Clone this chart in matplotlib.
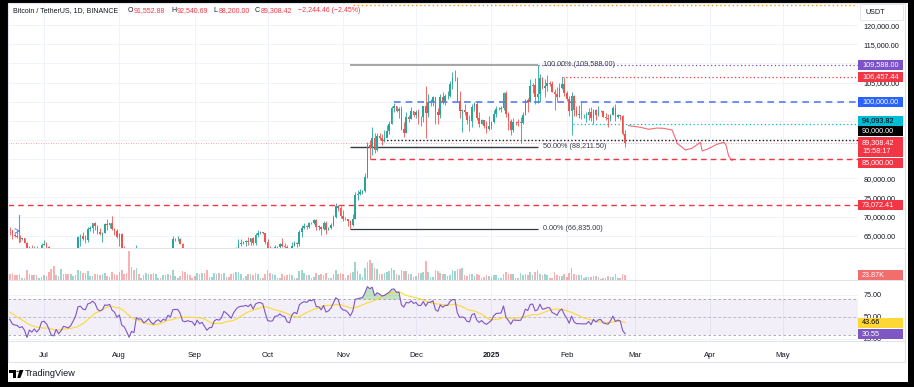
import numpy as np
import pandas as pd
import matplotlib
matplotlib.use('Agg')
import matplotlib.pyplot as plt
from matplotlib.patches import Rectangle, Polygon, Circle

plt.rcParams['font.family'] = ['Liberation Sans', 'DejaVu Sans']

# BTC/USDT daily, prices in thousands of USDT
# closes 1 May - 15 Jun 2024, only used to warm up the RSI
warmup_close = [58.3, 59.1, 62.9, 63.9, 64.0, 63.2, 62.3, 61.2, 63.1, 60.8, 60.8, 61.5, 62.9, 61.6, 66.3, 65.2,
                67.0, 67.0, 66.3, 71.4, 70.1, 69.1, 67.9, 68.5, 69.3, 68.5, 69.4, 68.4, 67.6, 68.4, 67.5,
                67.8, 67.8, 68.8, 70.6, 71.1, 70.8, 69.4, 69.3, 69.6, 69.5, 67.3, 68.2, 66.8, 66.0, 66.2]

first_open = 66.2  # 16 Jun 2024 open

# 16 Jun 2024 .. 25 Feb 2025
close = [66.6, 66.5, 65.2, 64.9, 64.8, 64.1, 64.3, 63.2, 60.3, 61.8, 60.9, 61.6, 60.3, 60.9, 62.7,
         62.9, 62.1, 60.2, 57.0, 56.6, 58.2, 55.9, 56.7, 58.0, 57.7, 57.3, 57.9, 59.2, 60.8, 64.7, 65.0,
         64.1, 63.9, 66.7, 67.1, 68.2, 67.6, 65.9, 65.4, 65.8, 68.0, 67.9, 68.3, 66.8, 66.2, 64.6,
         65.4, 61.5, 60.7, 58.1, 54.0, 56.0, 55.1, 61.7, 60.8, 60.9, 58.7, 59.4, 60.6, 58.7, 57.5, 58.9,
         59.5, 58.4, 59.5, 59.0, 61.2, 60.4, 64.1, 64.2, 64.2, 62.8, 59.4, 59.0, 59.4, 59.1, 58.9,
         57.3, 59.1, 57.5, 58.0, 56.2, 54.0, 54.8, 54.9, 57.0, 57.6, 57.3, 58.1, 60.6, 60.0, 59.2,
         58.2, 60.3, 61.8, 62.9, 63.2, 63.3, 63.6, 63.3, 64.3, 63.1, 65.2, 65.8, 65.9, 65.6, 63.3,
         60.8, 60.6, 60.7, 62.1, 62.1, 62.8, 62.2, 62.1, 60.6, 60.3, 62.4, 63.2, 62.8, 66.0, 67.0, 67.6,
         67.4, 68.4, 68.3, 69.0, 67.4, 67.4, 66.7, 68.2, 66.6, 67.0, 67.9, 69.9, 72.7, 72.3, 70.2,
         69.5, 69.4, 68.8, 67.8, 69.4, 75.6, 75.9, 76.5, 76.7, 80.4, 88.7, 88.0, 90.5, 87.4, 91.1,
         90.6, 89.8, 90.5, 92.3, 94.3, 98.4, 98.9, 97.7, 98.0, 93.0, 91.9, 95.9, 95.6, 97.5, 96.4,
         97.2, 95.9, 96.0, 98.8, 97.0, 99.9, 99.9, 101.1, 97.4, 96.6, 101.1, 100.0, 101.4, 101.4, 104.5, 106.1,
         106.1, 100.2, 97.5, 97.8, 97.3, 95.2, 94.9, 98.7, 99.4, 95.8, 94.2, 95.2, 93.6, 92.8, 93.6,
         94.6, 96.9, 98.1, 98.2, 98.3, 102.3, 96.9, 95.0, 92.5, 94.7, 94.6, 94.5, 94.5, 96.5, 100.5, 99.9,
         104.1, 104.4, 101.3, 102.0, 106.1, 103.7, 104.0, 104.8, 104.7, 102.6, 102.1, 101.3, 103.7, 104.7, 102.4,
         100.6, 97.7, 101.4, 97.9, 96.6, 96.6, 96.5, 96.5, 96.5, 97.4, 95.8, 97.9, 96.6, 97.5, 97.6,
         96.1, 95.8, 95.5, 96.6, 98.3, 96.1, 96.6, 96.3, 91.55288, 89.30842]

high = [66.9, 67.3, 66.6, 65.7, 66.5, 65.1, 64.5, 64.5, 63.4, 62.4, 62.5, 62.3, 62.2, 61.2, 63.0,
        63.8, 63.3, 62.3, 60.5, 57.5, 58.5, 58.2, 58.2, 58.3, 59.5, 59.4, 58.5, 59.9, 61.4, 64.9, 65.4,
        66.1, 65.1, 67.4, 67.6, 68.4, 68.5, 67.8, 67.1, 66.1, 68.2, 69.4, 68.3, 70.1, 66.9, 66.8,
        65.6, 65.6, 62.2, 61.1, 58.3, 57.0, 57.7, 62.7, 61.8, 61.5, 61.9, 60.7, 61.6, 61.8, 59.8, 59.8,
        59.6, 60.3, 59.6, 61.4, 61.8, 61.4, 64.9, 64.5, 65.0, 64.5, 63.2, 60.2, 61.2, 59.9, 59.5,
        59.0, 59.4, 59.8, 58.5, 58.3, 56.9, 55.0, 55.3, 58.1, 58.0, 57.9, 58.6, 60.7, 60.6, 60.4,
        59.2, 61.3, 62.0, 64.1, 64.1, 63.6, 64.0, 64.7, 64.5, 64.8, 65.8, 66.5, 66.3, 66.1, 65.6,
        64.1, 62.4, 61.5, 62.5, 62.4, 63.0, 64.5, 63.2, 62.5, 61.3, 63.4, 63.5, 63.3, 66.5, 67.9, 68.4,
        67.9, 68.7, 68.7, 69.4, 69.5, 67.8, 67.5, 68.8, 68.8, 67.4, 68.3, 70.3, 73.6, 72.9, 72.7,
        71.6, 70.0, 69.5, 69.0, 70.6, 76.4, 76.9, 77.2, 76.9, 81.5, 89.5, 89.9, 93.3, 91.8, 91.9,
        91.8, 91.5, 92.6, 94.0, 94.9, 98.9, 99.6, 98.9, 98.6, 98.9, 94.7, 97.2, 96.6, 98.7, 97.5,
        97.9, 98.2, 96.3, 99.0, 104.1, 101.9, 100.6, 101.4, 101.2, 98.3, 101.9, 102.5, 102.0, 102.7, 105.3, 107.8,
        108.4, 106.5, 102.8, 98.2, 99.5, 97.4, 96.4, 99.4, 99.9, 99.9, 97.3, 95.5, 95.2, 94.9, 96.2,
        94.9, 97.8, 98.9, 98.7, 98.8, 102.5, 102.7, 97.3, 95.4, 95.8, 95.0, 95.4, 95.9, 97.4, 100.7, 100.9,
        105.9, 104.9, 106.3, 109.588, 107.2, 106.4, 106.0, 107.1, 105.3, 105.5, 103.2, 103.8, 104.8, 106.5, 106.457,
        102.8, 101.5, 102.5, 101.7, 99.0, 99.2, 100.1, 96.9, 97.3, 98.3, 98.5, 98.1, 98.0, 98.8, 97.9,
        97.7, 97.0, 96.7, 96.9, 98.8, 99.5, 96.9, 96.5, 96.5, 92.54069]

low = [66.0, 65.1, 64.1, 64.7, 64.5, 63.4, 63.9, 63.2, 58.4, 60.3, 60.7, 60.6, 60.0, 60.3, 60.7,
       62.5, 61.8, 59.4, 56.8, 53.5, 56.1, 55.7, 54.3, 56.5, 57.2, 57.0, 56.5, 57.8, 59.2, 60.6, 62.4,
       63.9, 63.2, 63.3, 66.2, 65.7, 66.6, 65.4, 65.1, 63.4, 65.7, 66.6, 67.1, 66.6, 65.3, 64.5,
       62.3, 61.2, 59.9, 57.1, 49.0, 53.9, 54.6, 54.7, 59.6, 60.3, 58.3, 57.6, 58.5, 58.4, 56.1, 57.1,
       58.8, 58.4, 57.8, 58.6, 58.8, 59.8, 60.4, 63.6, 63.6, 62.8, 58.1, 57.9, 58.8, 57.8, 58.8,
       57.2, 57.1, 57.4, 55.6, 55.6, 52.6, 53.7, 53.6, 54.6, 56.4, 55.5, 57.3, 57.6, 59.4, 58.7,
       57.5, 57.6, 59.2, 61.8, 62.3, 62.8, 62.4, 62.7, 62.7, 62.7, 62.7, 64.8, 65.4, 65.4, 62.9,
       60.2, 59.9, 59.8, 60.5, 61.7, 61.8, 62.1, 61.8, 60.3, 58.9, 60.1, 62.4, 62.0, 62.4, 64.8, 66.7,
       66.7, 67.1, 68.0, 68.1, 66.6, 66.6, 65.3, 66.6, 65.5, 66.4, 66.7, 67.5, 69.7, 71.4, 69.7,
       68.8, 69.0, 67.5, 66.835, 67.5, 69.3, 74.4, 75.6, 75.8, 76.5, 80.2, 85.1, 86.2, 86.7, 87.1,
       90.1, 88.7, 89.4, 90.9, 91.5, 94.1, 97.2, 97.2, 95.7, 92.6, 90.8, 91.8, 94.6, 95.4, 96.0,
       95.7, 94.2, 93.6, 94.7, 90.5, 95.9, 99.0, 98.8, 94.2, 94.3, 95.7, 99.3, 99.2, 100.6, 101.2, 103.3,
       105.3, 100.0, 95.7, 92.2, 96.4, 94.2, 92.4, 93.4, 97.6, 95.1, 93.4, 94.1, 93.1, 91.9, 92.5,
       92.8, 94.4, 96.0, 97.8, 97.3, 97.9, 96.1, 92.5, 91.2, 92.2, 93.8, 93.7, 89.3, 94.3, 96.5, 97.3,
       99.9, 102.3, 99.5, 99.6, 100.1, 103.3, 101.3, 102.8, 104.1, 102.5, 97.8, 100.3, 101.3, 103.3, 101.5,
       100.3, 96.2, 91.2, 96.2, 96.2, 95.7, 95.6, 95.7, 94.7, 95.3, 94.9, 94.1, 95.2, 96.3, 97.2,
       96.1, 95.2, 93.4, 95.0, 96.4, 94.9, 95.8, 95.2, 91.4, 88.2]

# volume, thousands of BTC
volume = [11, 30, 35, 22, 25, 28, 10, 12, 48, 28, 22, 24, 25, 10, 15,
          25, 20, 38, 52, 70, 22, 20, 52, 30, 28, 30, 28, 18, 24, 50, 42, 32, 34, 45, 18, 20, 30,
          28, 24, 30, 32, 20, 14, 40, 28, 26,
          40, 50, 30, 35, 140, 62, 48, 58, 30, 12, 22, 36, 30, 28, 36, 30, 10, 12, 22, 22, 28, 22,
          48, 20, 12, 18, 45, 40, 30, 26, 10,
          18, 32, 30, 36, 32, 48, 14, 14, 32, 30, 32, 30, 36, 14, 14, 30, 32, 40, 38, 30, 10, 18,
          28, 28, 26, 34, 28, 12, 12, 30,
          50, 32, 28, 25, 10, 12, 30, 20, 22, 28, 26, 12, 12, 45, 50, 32, 24, 26, 10, 16, 36, 26,
          28, 22, 32, 12, 12, 28, 50, 30, 35,
          30, 12, 22, 32, 38, 88, 45, 30, 14, 60, 85, 95, 80, 60, 55, 28, 30, 35, 40, 42, 60, 48,
          30, 25, 50, 45, 42, 28, 30, 15,
          18, 35, 35, 40, 90, 40, 15, 16, 50, 45, 35, 30, 28, 20, 22, 50, 45, 55, 55, 60, 25, 20,
          30, 30, 18, 30, 25, 12, 13, 25, 20,
          15, 22, 22, 10, 10, 30, 40, 30, 28, 28, 8, 10, 35, 22, 28, 22, 40, 24, 38, 50, 30, 25,
          28, 22, 10, 12, 40, 22, 20, 20, 28,
          15, 32, 60, 30, 22, 22, 25, 10, 15, 15, 15, 20, 18, 15, 7, 10, 12, 18, 15, 15, 28, 10,
          10, 30, 23.87]

# last RSI / RSI-MA readings shown on the scale
rsi_last = 30.55
rsi_ma_last = 43.66

# projected path drawn after the last candle (day index from 1 Jul 2024, price k)
proj_day = [240.4, 245.3, 248.7, 252.1, 254.9, 258.3, 259.7, 260.4, 263.8, 266.5, 270.0, 270.7,
            272.7, 276.8, 279.6, 280.5, 281.6, 283.0]
proj_price = [93.73, 93.32, 92.79, 93.13, 93.05, 92.61, 90.44, 89.14, 87.39, 87.83, 89.40, 87.13,
              87.57, 88.88, 89.40, 88.69, 85.82, 84.60]

fib_levels = [109.588, 88.2115, 66.835]
fib_labels = ['100.00% (109,588.00)', '50.00% (88,211.50)', '0.00% (66,835.00)']

month_names = ['Jul', 'Aug', 'Sep', 'Oct', 'Nov', 'Dec', '2025', 'Feb', 'Mar', 'Apr', 'May']
month_dates = ['2024-07-01', '2024-08-01', '2024-09-01', '2024-10-01', '2024-11-01', '2024-12-01',
               '2025-01-01', '2025-02-01', '2025-03-01', '2025-04-01', '2025-05-01']

# price scale ticks (k); the ones sitting fully under a value tag show no label
price_ticks = [65, 70, 75, 80, 85, 90, 95, 100, 105, 110, 115, 120]
hidden_ticks = [85, 90, 95, 100, 110]

assert len(close) == len(high) == len(low) == len(volume) == 255

start = pd.Timestamp('2024-07-01')
dates = pd.date_range('2024-06-16', periods=len(close), freq='D')
days = np.array((dates - start).days, dtype=float)
month_days = [(pd.Timestamp(d) - start).days for d in month_dates]

c = np.array(close)
o = np.concatenate([[first_open], c[:-1]])
h = np.array(high)
l = np.array(low)
v = np.array(volume)
up = c >= o

# RSI(14) with Wilder smoothing and its 14 SMA
s = pd.Series(warmup_close + close)
d = s.diff()
gain = d.clip(lower=0).ewm(alpha=1/14, adjust=False).mean()
loss = (-d.clip(upper=0)).ewm(alpha=1/14, adjust=False).mean()
rsi_all = 100 - 100 / (1 + gain / loss)
rsi_ma_all = rsi_all.rolling(14).mean()
rsi = rsi_all.values[len(warmup_close):]
rsi_ma = rsi_ma_all.values[len(warmup_close):]

UP, DOWN = '#26a69a', '#ef5350'
TXT = '#131722'
GRID = '#f0f3fa'
W, H = 914, 387
FS = 5.2

fig = plt.figure(figsize=(W / 100, H / 100), dpi=100)
fig.patch.set_facecolor('black')
fig.add_artist(Rectangle((8 / W, 1 - 382 / H), 900 / W, 379 / H, transform=fig.transFigure,
                         facecolor='white', edgecolor='none', zorder=-10))


def px_axes(x0, y0, x1, y1):
    return fig.add_axes([x0 / W, 1 - y1 / H, (x1 - x0) / W, (y1 - y0) / H])


ax = px_axes(8, 3, 858, 248)
axv = px_axes(8, 248, 858, 280)
axr = px_axes(8, 280, 858, 341)

XMIN, XMAX = -14.8, 334.8
for a in (ax, axv, axr):
    a.set_xlim(XMIN, XMAX)
    a.set_xticks(month_days)
    a.grid(True, color=GRID, lw=0.7)
    a.set_axisbelow(True)
    for sp in a.spines.values():
        sp.set_visible(False)
    a.tick_params(length=0, labelsize=FS, labelcolor=TXT)
    a.yaxis.tick_right()
    a.tick_params(axis='y', pad=3.8)
ax.tick_params(axis='x', labelbottom=False)
axv.tick_params(axis='x', labelbottom=False)

# ---- price pane
ax.set_ylim(61.802, 125.77)
ax.set_yticks(price_ticks)
ax.set_yticklabels(['' if p in hidden_ticks else f'{p * 1000:,.2f}' for p in price_ticks])

cols = np.where(up, UP, DOWN)
ax.vlines(days, l, h, color=cols, lw=0.6, zorder=3)
body_lo = np.minimum(o, c)
body_h = np.maximum(np.abs(c - o), 0.08)
ax.bar(days, body_h, bottom=body_lo, width=0.66, color=cols, lw=0, zorder=4)

# fib retracement
fib_x0, fib_x1 = 126.0, 203.3
ax.hlines(fib_levels[0], fib_x0, fib_x1, color='#9e9e9e', lw=1.3, zorder=2)
ax.hlines(fib_levels[1], fib_x0, fib_x1, color='#363a45', lw=1.0, zorder=2)
ax.hlines(fib_levels[2], fib_x0, fib_x1, color='#363a45', lw=0.9, zorder=2)
for lev, lab in zip(fib_levels, fib_labels):
    ax.text(205.2, lev, lab, fontsize=FS, color='#363a45', va='center', ha='left', zorder=5)

# horizontal levels
ax.hlines(125.25, 127, XMAX, color='#ff9800', lw=1.0, linestyles=(0, (1, 2)))
ax.hlines(109.588, 203.3, XMAX, color='#7e57c2', lw=0.9, linestyles=(0, (1, 2)))
ax.hlines(106.45744, 213, XMAX, color='#f23645', lw=0.9, linestyles=(0, (1, 2)))
ax.hlines(100.0, 144, XMAX, color='#5b7cf7', lw=1.2, linestyles=(0, (4, 3)))
ax.hlines(94.09382, 217.7, XMAX, color='#00bcd4', lw=0.9, linestyles=(0, (1, 2)))
ax.hlines(90.0, 139.5, XMAX, color=TXT, lw=1.0, linestyles=(0, (1, 1.6)))
ax.hlines(89.30842, XMIN, XMAX, color='#f23645', lw=0.6, alpha=0.6, linestyles=(0, (1, 2)))
ax.hlines(85.0, 134, XMAX, color='#f23645', lw=1.0, linestyles=(0, (4, 3)))
ax.hlines(73.07241, XMIN, XMAX, color='#f23645', lw=1.0, linestyles=(0, (4, 3)))

# projected path
ax.plot(proj_day, proj_price, color='#f23645', lw=0.8, alpha=0.75, zorder=3)

# small blue arrow drawing at the left
ax.plot([-10.1, -10.1], [70.4, 63.3], color='#2962ff', lw=0.8, alpha=0.7)
ax.plot([-11.9, -10.1, -11.9], [66.8, 66.25, 65.7], color='#2962ff', lw=0.8, alpha=0.7)

# ---- volume pane
axv.set_ylim(0, 155)
axv.set_yticks([])
axv.bar(days, v, width=0.66, color=np.where(up, UP, DOWN), alpha=0.45, lw=0)

# ---- RSI pane
axr.set_ylim(22.7, 92.0)
axr.set_yticks([25, 50, 75])
axr.set_yticklabels(['25.00', '50.00', '75.00'])
axr.axhspan(30, 70, color='#7e57c2', alpha=0.09, lw=0)
for lev, al in ((70, 0.7), (50, 0.45), (30, 0.7)):
    axr.axhline(lev, color='#787b86', lw=0.6, alpha=al, ls=(0, (3, 3)))
axr.fill_between(days, rsi, 70, where=rsi > 70, interpolate=True, color='#4caf50', alpha=0.35, lw=0)
axr.plot(days, rsi_ma, color='#fdd835', lw=0.8)
axr.plot(days, rsi, color='#7e57c2', lw=0.8)
axr.set_xticklabels(month_names)
axr.tick_params(axis='x', pad=8.2, labelsize=5.6)
for t in axr.get_xticklabels():
    if t.get_text() == '2025':
        t.set_fontweight('bold')

# ---- frame and pane separators
fig.add_artist(Rectangle((8 / W, 1 - 362 / H), 897 / W, 359 / H, transform=fig.transFigure,
                         facecolor='none', edgecolor='#e0e3eb', lw=0.8))
for yy in (248, 280, 341):
    fig.add_artist(plt.Line2D([8 / W, 905 / W], [1 - yy / H, 1 - yy / H], transform=fig.transFigure,
                              color='#e0e3eb', lw=0.7))

# ---- value tags on the scale
fig.canvas.draw()


def tag(axis, value, label, bg, fg='white', nudge=0.0, hpx=10.0, sub=None):
    yc = axis.transData.transform((0, value))[1] + nudge
    fig.add_artist(Rectangle((858 / W, (yc - hpx / 2) / H), 45 / W, hpx / H, transform=fig.transFigure,
                             facecolor=bg, edgecolor='none', zorder=5))
    if sub is None:
        fig.text(862 / W, yc / H, label, color=fg, fontsize=FS, va='center', ha='left', zorder=6)
    else:
        fig.text(862 / W, (yc + 4.6) / H, label, color=fg, fontsize=FS, va='center', ha='left', zorder=6)
        fig.text(862 / W, (yc - 4.6) / H, sub, color=fg, fontsize=FS, va='center', ha='left', zorder=6)


tag(ax, 109.588, '109,588.00', '#7b52c7')
tag(ax, 106.45744, '106,457.44', '#f23645')
tag(ax, 100.0, '100,000.00', '#2962ff')
tag(ax, 94.09382, '94,093.82', '#00bcd4', fg='black', nudge=3.3)
tag(ax, 90.0, '90,000.00', 'black', nudge=9.0)
tag(ax, 89.30842, '89,308.42', '#f23645', nudge=-4.4, hpx=20, sub='15:58:17')
tag(ax, 85.0, '85,000.00', '#f23645', nudge=-3.6)
tag(ax, 73.07241, '73,072.41', '#f23645')
tag(axv, v[-1], '23.87K', '#f26d6d')
tag(axr, rsi_ma_last, f'{rsi_ma_last:.2f}', '#fdd835', fg='black')
tag(axr, rsi_last, f'{rsi_last:.2f}', '#7e57c2')

# currency box
fig.add_artist(Rectangle((860 / W, 1 - 20 / H), 43 / W, 16 / H, transform=fig.transFigure,
                         facecolor='white', edgecolor='#e0e3eb', lw=0.6, zorder=5))
fig.text(865 / W, 1 - 12 / H, 'USDT', fontsize=FS, color=TXT, va='center', zorder=6)

# ---- legend line at the top
yl = 1 - 11 / H
HF = 5.0
fig.text(13 / W, yl, 'Bitcoin / TetherUS, 1D, BINANCE', fontsize=HF, color=TXT, va='center')
for xp, letter, val in ((128, 'O', '91,552.88'), (171, 'H', '92,540.69'),
                        (213, 'L', '88,200.00'), (255, 'C', '89,308.42')):
    fig.text(xp / W, yl, letter, fontsize=HF, color=TXT, va='center')
    fig.text((xp + 5.6) / W, yl, val, fontsize=HF, color='#f23645', va='center')
fig.text(298 / W, yl, '\u22122,244.46 (\u22122.45%)', fontsize=HF, color='#f23645', va='center')

# ---- TradingView logo
def fpx(pts):
    return [(x / W, 1 - y / H) for x, y in pts]


fig.add_artist(Polygon(fpx([(9, 370), (15.5, 370), (15.5, 378), (12.8, 378), (12.8, 372.5), (9, 372.5)]),
                       closed=True, transform=fig.transFigure, facecolor='black', edgecolor='none'))
fig.add_artist(Circle((17.6 / W, 1 - 371.3 / H), 1.2 / W, transform=fig.transFigure,
                      facecolor='black', edgecolor='none'))
fig.add_artist(Polygon(fpx([(19.5, 370), (23.5, 370), (20.3, 378), (17.3, 378)]),
                       closed=True, transform=fig.transFigure, facecolor='black', edgecolor='none'))
fig.text(24.5 / W, 1 - 374 / H, 'TradingView', fontsize=6.6, color=TXT, va='center')

fig.savefig('out.png', dpi=100, facecolor=fig.get_facecolor())
